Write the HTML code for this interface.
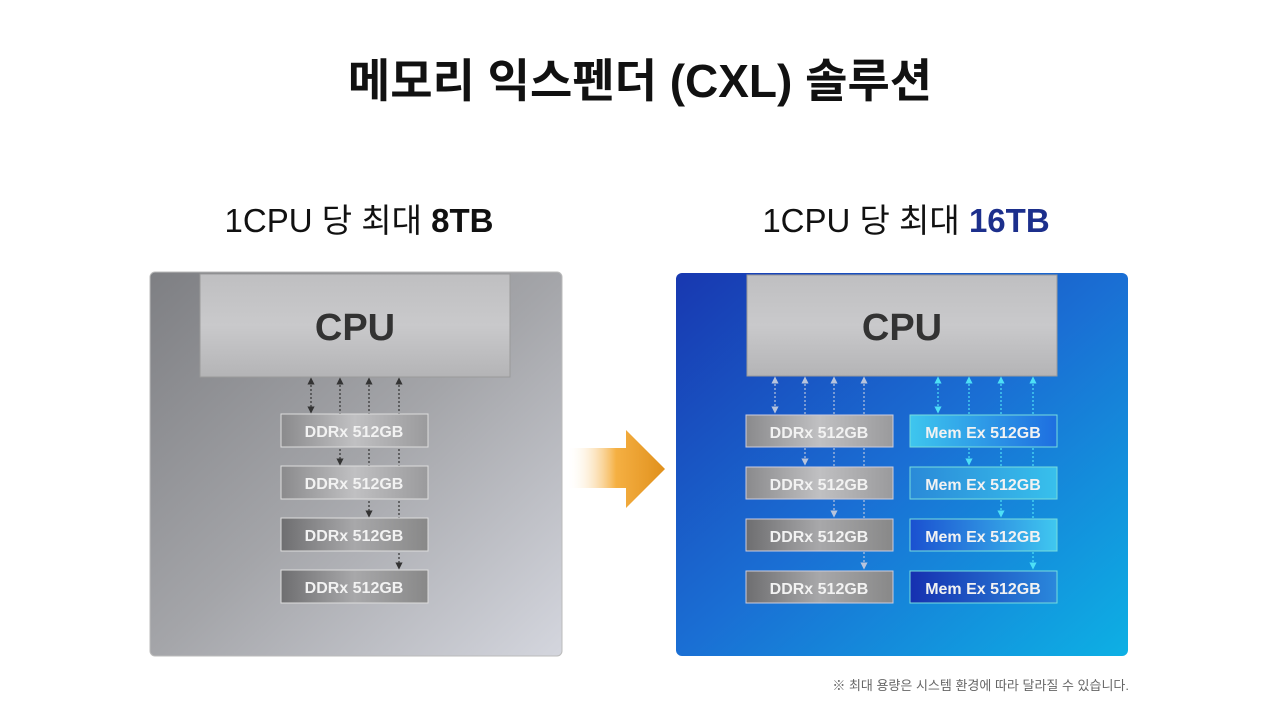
<!DOCTYPE html>
<html><head><meta charset="utf-8"><style>
html,body{margin:0;padding:0;background:#fff;}
svg{display:block;}
text{font-family:"Liberation Sans","Noto Sans CJK KR",sans-serif;}
</style></head><body>
<svg width="1280" height="720" viewBox="0 0 1280 720" xmlns="http://www.w3.org/2000/svg">
<defs>
<linearGradient id="gp" x1="0" y1="0" x2="1" y2="1">
<stop offset="0" stop-color="#7e7f83"/><stop offset="0.5" stop-color="#a4a5a9"/><stop offset="1" stop-color="#d4d6de"/></linearGradient>
<linearGradient id="bp" x1="0" y1="0" x2="1" y2="1">
<stop offset="0" stop-color="#1838b0"/><stop offset="0.5" stop-color="#1a6fd4"/><stop offset="1" stop-color="#0db0e4"/></linearGradient>
<linearGradient id="cpu" x1="0" y1="0" x2="0" y2="1">
<stop offset="0" stop-color="#bfbfc1"/><stop offset="0.5" stop-color="#c9c9cb"/><stop offset="1" stop-color="#b4b4b6"/></linearGradient>
<linearGradient id="ddr" x1="0" y1="0" x2="1" y2="0">
<stop offset="0" stop-color="#8a8a8c"/><stop offset="0.5" stop-color="#c0c0c2"/><stop offset="1" stop-color="#9a9a9c"/></linearGradient>
<linearGradient id="ddr2" x1="0" y1="0" x2="1" y2="0">
<stop offset="0" stop-color="#6e6e70"/><stop offset="0.5" stop-color="#a8a8aa"/><stop offset="1" stop-color="#888"/></linearGradient>
<linearGradient id="m1" x1="0" y1="0" x2="1" y2="0">
<stop offset="0" stop-color="#3ec6ee"/><stop offset="1" stop-color="#1e6ee0"/></linearGradient>
<linearGradient id="m2" x1="0" y1="0" x2="1" y2="0">
<stop offset="0" stop-color="#2a8ad8"/><stop offset="1" stop-color="#38c0ec"/></linearGradient>
<linearGradient id="m3" x1="0" y1="0" x2="1" y2="0">
<stop offset="0" stop-color="#1a50d0"/><stop offset="1" stop-color="#40c8f0"/></linearGradient>
<linearGradient id="m4" x1="0" y1="0" x2="1" y2="0">
<stop offset="0" stop-color="#1630b0"/><stop offset="1" stop-color="#2a88dc"/></linearGradient>
<linearGradient id="or" x1="0" y1="0" x2="1" y2="0">
<stop offset="0" stop-color="#fff" stop-opacity="0"/><stop offset="0.5" stop-color="#f5b043"/><stop offset="1" stop-color="#e0901c"/></linearGradient>
<marker id="ag" markerWidth="6" markerHeight="6" refX="3" refY="3" orient="auto-start-reverse"><path d="M0,0 L6,3 L0,6z" fill="#333"/></marker>
<marker id="al" markerWidth="6" markerHeight="6" refX="3" refY="3" orient="auto-start-reverse"><path d="M0,0 L6,3 L0,6z" fill="#b8c4dc"/></marker>
<marker id="ac" markerWidth="6" markerHeight="6" refX="3" refY="3" orient="auto-start-reverse"><path d="M0,0 L6,3 L0,6z" fill="#4ee0f6"/></marker>
</defs>

<text x="640" y="97" text-anchor="middle" font-size="46" font-weight="bold" fill="#111">메모리 익스펜더 (CXL) 솔루션</text>
<text x="359" y="232" text-anchor="middle" font-size="33" fill="#111">1CPU 당 최대 <tspan font-weight="bold">8TB</tspan></text>
<text x="906" y="232" text-anchor="middle" font-size="33" fill="#111">1CPU 당 최대 <tspan font-weight="bold" fill="#1c2f8c">16TB</tspan></text>

<!-- left panel -->
<rect x="150" y="272" width="412" height="384" rx="5" fill="url(#gp)" stroke="#bbb"/>
<rect x="200" y="274" width="310" height="103" fill="url(#cpu)" stroke="#9a9a9a"/>
<text x="355" y="340" text-anchor="middle" font-size="38" font-weight="bold" fill="#333">CPU</text>
<g stroke="#333" stroke-width="1.2" stroke-dasharray="2,2" fill="none">
<line x1="311" y1="381" x2="311" y2="410" marker-start="url(#ag)" marker-end="url(#ag)"/>
<line x1="340" y1="381" x2="340" y2="462" marker-start="url(#ag)" marker-end="url(#ag)"/>
<line x1="369" y1="381" x2="369" y2="514" marker-start="url(#ag)" marker-end="url(#ag)"/>
<line x1="399" y1="381" x2="399" y2="566" marker-start="url(#ag)" marker-end="url(#ag)"/>
</g>
<g font-size="16" font-weight="bold" fill="#f2f2f2" text-anchor="middle">
<rect x="281" y="414" width="147" height="33" fill="url(#ddr)" stroke="#ddd"/><text x="354" y="437">DDRx 512GB</text>
<rect x="281" y="466" width="147" height="33" fill="url(#ddr)" stroke="#ddd"/><text x="354" y="489">DDRx 512GB</text>
<rect x="281" y="518" width="147" height="33" fill="url(#ddr2)" stroke="#ddd"/><text x="354" y="541">DDRx 512GB</text>
<rect x="281" y="570" width="147" height="33" fill="url(#ddr2)" stroke="#ddd"/><text x="354" y="593">DDRx 512GB</text>
</g>

<!-- arrow -->
<path d="M567,448 L626,448 L626,430 L665,469 L626,508 L626,488 L567,488z" fill="url(#or)"/>

<!-- right panel -->
<rect x="676" y="273" width="452" height="383" rx="6" fill="url(#bp)"/>
<rect x="747" y="275" width="310" height="101" fill="url(#cpu)" stroke="#9a9a9a"/>
<text x="902" y="340" text-anchor="middle" font-size="38" font-weight="bold" fill="#333">CPU</text>
<g stroke="#b8c4dc" stroke-width="1.2" stroke-dasharray="2,2" fill="none">
<line x1="775" y1="380" x2="775" y2="410" marker-start="url(#al)" marker-end="url(#al)"/>
<line x1="805" y1="380" x2="805" y2="462" marker-start="url(#al)" marker-end="url(#al)"/>
<line x1="834" y1="380" x2="834" y2="514" marker-start="url(#al)" marker-end="url(#al)"/>
<line x1="864" y1="380" x2="864" y2="566" marker-start="url(#al)" marker-end="url(#al)"/>
</g>
<g stroke="#4ee0f6" stroke-width="1.2" stroke-dasharray="2,2" fill="none">
<line x1="938" y1="380" x2="938" y2="410" marker-start="url(#ac)" marker-end="url(#ac)"/>
<line x1="969" y1="380" x2="969" y2="462" marker-start="url(#ac)" marker-end="url(#ac)"/>
<line x1="1001" y1="380" x2="1001" y2="514" marker-start="url(#ac)" marker-end="url(#ac)"/>
<line x1="1033" y1="380" x2="1033" y2="566" marker-start="url(#ac)" marker-end="url(#ac)"/>
</g>
<g font-size="16" font-weight="bold" fill="#f2f2f2" text-anchor="middle">
<rect x="746" y="415" width="147" height="32" fill="url(#ddr)" stroke="#ccd"/><text x="819" y="438">DDRx 512GB</text>
<rect x="746" y="467" width="147" height="32" fill="url(#ddr)" stroke="#ccd"/><text x="819" y="490">DDRx 512GB</text>
<rect x="746" y="519" width="147" height="32" fill="url(#ddr2)" stroke="#ccd"/><text x="819" y="542">DDRx 512GB</text>
<rect x="746" y="571" width="147" height="32" fill="url(#ddr2)" stroke="#ccd"/><text x="819" y="594">DDRx 512GB</text>
<rect x="910" y="415" width="147" height="32" fill="url(#m1)" stroke="#7dd"/><text x="983" y="438">Mem Ex 512GB</text>
<rect x="910" y="467" width="147" height="32" fill="url(#m2)" stroke="#7dd"/><text x="983" y="490">Mem Ex 512GB</text>
<rect x="910" y="519" width="147" height="32" fill="url(#m3)" stroke="#7dd"/><text x="983" y="542">Mem Ex 512GB</text>
<rect x="910" y="571" width="147" height="32" fill="url(#m4)" stroke="#7dd"/><text x="983" y="594">Mem Ex 512GB</text>
</g>

<text x="1129" y="690" text-anchor="end" font-size="13" fill="#666">※ 최대 용량은 시스템 환경에 따라 달라질 수 있습니다.</text>
</svg>
</body></html>
